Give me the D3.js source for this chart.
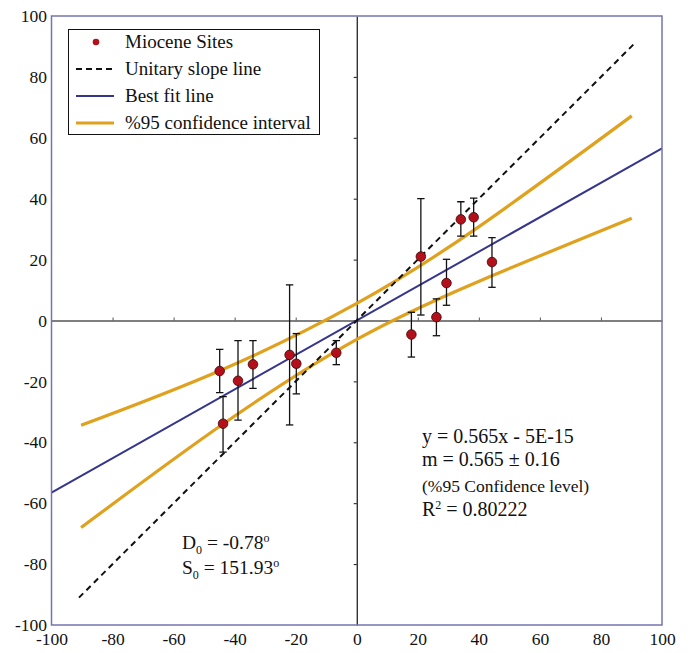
<!DOCTYPE html>
<html>
<head>
<meta charset="utf-8">
<script src="https://cdnjs.cloudflare.com/ajax/libs/d3/7.8.5/d3.min.js"></script>
<style>
  body { margin: 0; background: #fff; }
  text { font-family: "Liberation Serif", "Times New Roman", serif; fill: #111; }
</style>
</head>
<body>
<div id="chart"></div>
<script>
// Miocene sites
var siteX = [-44.9, -43.8, -38.9, -34.0, -22.0, -19.8, -6.7, 17.9, 21.0, 26.1, 29.4, 34.1, 38.3, 44.3];
var siteY = [-16.6, -33.9, -19.8, -14.4, -11.3, -14.2, -10.6, -4.6, 21.0, 1.1, 12.3, 33.2, 33.9, 19.2];
var errLow = [-23.7, -43.2, -32.7, -22.3, -34.3, -24.1, -14.5, -12.0, 1.8, -5.0, 5.0, 27.7, 27.7, 10.9];
var errHigh = [-9.5, -25.0, -6.6, -6.6, 11.7, -4.3, -6.6, 2.7, 40.0, 7.1, 20.1, 39.0, 40.2, 27.2];

// unitary slope line and best fit line end points
var unitX = [-91, 91];
var unitY = [-91, 91];
var fitX = [-100, 100];
var fitY = [-56.5, 56.5];

// 95% confidence band, upper and lower curves
var upperX = [-90.3, -44.9, 0, 40.3, 90.1];
var upperY = [-34.4, -16.5, 5.6, 31.0, 67.2];
var lowerX = [-90.3, -43.8, 0, 40.3, 90.1];
var lowerY = [-68.0, -34.0, -6.2, 13.0, 33.6];

var ticks = [-100, -80, -60, -40, -20, 0, 20, 40, 60, 80, 100];

var svgWidth = 692;
var svgHeight = 653;
var margin = { top: 16, right: 30, bottom: 28, left: 51.5 };
var width = 662 - margin.left;
var height = 625 - margin.top;

var svg = d3.select("#chart")
  .append("svg")
  .attr("width", svgWidth)
  .attr("height", svgHeight);

var chartGroup = svg.append("g")
  .attr("transform", `translate(${margin.left}, ${margin.top})`);

var x = d3.scaleLinear().domain([-100, 100]).range([0, width]);
var y = d3.scaleLinear().domain([-100, 100]).range([height, 0]);

chartGroup.append("clipPath")
  .attr("id", "plotClip")
  .append("rect")
  .attr("width", width)
  .attr("height", height);

// outer tick labels, no tick marks (plain hyphen for negatives)
var leftAxis = d3.axisLeft(y).tickValues(ticks).tickSize(0).tickPadding(4.5).tickFormat(d => String(d));
var bottomAxis = d3.axisBottom(x).tickValues(ticks).tickSize(0).tickPadding(8).tickFormat(d => String(d));

chartGroup.append("g")
  .call(leftAxis)
  .attr("font-family", "'Liberation Serif', serif")
  .attr("font-size", 17.5)
  .call(g => g.select(".domain").remove())
  .call(g => g.selectAll("text").attr("fill", "#111"));

chartGroup.append("g")
  .attr("transform", `translate(0, ${height})`)
  .call(bottomAxis)
  .attr("font-family", "'Liberation Serif', serif")
  .attr("font-size", 17.5)
  .call(g => g.select(".domain").remove())
  .call(g => g.selectAll("text").attr("fill", "#111"));

// zero lines with small ticks
chartGroup.append("g")
  .attr("transform", `translate(0, ${y(0)})`)
  .call(d3.axisTop(x).tickValues(ticks.slice(1, -1)).tickSize(3).tickSizeOuter(0).tickFormat(""))
  .call(g => g.select(".domain").attr("stroke", "#555").attr("stroke-width", 1.3))
  .call(g => g.selectAll(".tick line").attr("stroke", "#555"));

chartGroup.append("g")
  .attr("transform", `translate(${x(0)}, 0)`)
  .call(d3.axisLeft(y).tickValues(ticks.slice(1, -1)).tickSize(3).tickSizeOuter(0).tickFormat(""))
  .call(g => g.select(".domain").attr("stroke", "#111").attr("stroke-width", 1.2))
  .call(g => g.selectAll(".tick line").attr("stroke", "#111"));

var plot = chartGroup.append("g").attr("clip-path", "url(#plotClip)");

var line = d3.line()
  .x(d => x(d[0]))
  .y(d => y(d[1]));

var bandLine = d3.line()
  .x(d => x(d[0]))
  .y(d => y(d[1]))
  .curve(d3.curveNatural);

// confidence band curves
plot.append("path")
  .datum(upperX.map((v, i) => [v, upperY[i]]))
  .attr("d", bandLine)
  .attr("fill", "none")
  .attr("stroke", "#e0a21e")
  .attr("stroke-width", 3.2);

plot.append("path")
  .datum(lowerX.map((v, i) => [v, lowerY[i]]))
  .attr("d", bandLine)
  .attr("fill", "none")
  .attr("stroke", "#e0a21e")
  .attr("stroke-width", 3.2);

// best fit line
plot.append("path")
  .datum(fitX.map((v, i) => [v, fitY[i]]))
  .attr("d", line)
  .attr("fill", "none")
  .attr("stroke", "#36358c")
  .attr("stroke-width", 2);

// unitary slope line
plot.append("path")
  .datum(unitX.map((v, i) => [v, unitY[i]]))
  .attr("d", line)
  .attr("fill", "none")
  .attr("stroke", "#111")
  .attr("stroke-width", 2)
  .attr("stroke-dasharray", "6,4.5");

// error bars
var errGroup = plot.append("g")
  .selectAll("g")
  .data(siteX)
  .enter()
  .append("g")
  .attr("stroke", "#111")
  .attr("stroke-width", 1.3);

errGroup.append("line")
  .attr("x1", d => x(d))
  .attr("x2", d => x(d))
  .attr("y1", (d, i) => y(errLow[i]))
  .attr("y2", (d, i) => y(errHigh[i]));

errGroup.append("line")
  .attr("x1", d => x(d) - 3.7)
  .attr("x2", d => x(d) + 3.7)
  .attr("y1", (d, i) => y(errLow[i]))
  .attr("y2", (d, i) => y(errLow[i]));

errGroup.append("line")
  .attr("x1", d => x(d) - 3.7)
  .attr("x2", d => x(d) + 3.7)
  .attr("y1", (d, i) => y(errHigh[i]))
  .attr("y2", (d, i) => y(errHigh[i]));

// site points
plot.append("g")
  .selectAll("circle")
  .data(siteX)
  .enter()
  .append("circle")
  .attr("cx", d => x(d))
  .attr("cy", (d, i) => y(siteY[i]))
  .attr("r", 4.8)
  .attr("fill", "#b3101c")
  .attr("stroke", "#3a0808")
  .attr("stroke-width", 0.8);

// plot frame
chartGroup.append("rect")
  .attr("width", width)
  .attr("height", height)
  .attr("fill", "none")
  .attr("stroke", "#7474b2")
  .attr("stroke-width", 1.5);

// legend
var legend = svg.append("g");
legend.append("rect")
  .attr("x", 68.5)
  .attr("y", 29.5)
  .attr("width", 251)
  .attr("height", 105)
  .attr("fill", "#fff")
  .attr("stroke", "#111")
  .attr("stroke-width", 1);

var legendLabels = ["Miocene Sites", "Unitary slope line", "Best fit line", "%95 confidence interval"];
legendLabels.forEach(function(lab, i) {
  var cy = 42 + i * 27;
  if (i === 0) {
    legend.append("circle").attr("cx", 96).attr("cy", cy).attr("r", 3.3).attr("fill", "#b3101c");
  } else {
    legend.append("line")
      .attr("x1", 76).attr("x2", 114)
      .attr("y1", cy).attr("y2", cy)
      .attr("stroke", i === 1 ? "#111" : i === 2 ? "#36358c" : "#e0a21e")
      .attr("stroke-width", i === 3 ? 3.2 : 2)
      .attr("stroke-dasharray", i === 1 ? "6,4" : null);
  }
  legend.append("text")
    .attr("x", 125)
    .attr("y", cy + 6)
    .style("font-size", "19px")
    .text(lab);
});

// regression text
var eq = svg.append("g").style("font-size", "20px");
eq.append("text").attr("x", 422).attr("y", 443).text("y = 0.565x - 5E-15");
eq.append("text").attr("x", 422).attr("y", 466).text("m = 0.565 \u00b1 0.16");
eq.append("text").attr("x", 422).attr("y", 492).style("font-size", "17.5px").text("(%95 Confidence level)");
var r2 = eq.append("text").attr("x", 422).attr("y", 516);
r2.append("tspan").text("R");
r2.append("tspan").attr("dy", -7).style("font-size", "12px").text("2");
r2.append("tspan").attr("dy", 7).text(" = 0.80222");

// D0 and S0
var ds = svg.append("g").style("font-size", "19.5px");
var d0 = ds.append("text").attr("x", 182).attr("y", 549);
d0.append("tspan").text("D");
d0.append("tspan").attr("dy", 5).style("font-size", "12px").text("0");
d0.append("tspan").attr("dy", -5).text(" = -0.78");
d0.append("tspan").attr("dy", -7).style("font-size", "12px").text("o");
var s0 = ds.append("text").attr("x", 182).attr("y", 574);
s0.append("tspan").text("S");
s0.append("tspan").attr("dy", 5).style("font-size", "12px").text("0");
s0.append("tspan").attr("dy", -5).text(" = 151.93");
s0.append("tspan").attr("dy", -7).style("font-size", "12px").text("o");
</script>
</body>
</html>
